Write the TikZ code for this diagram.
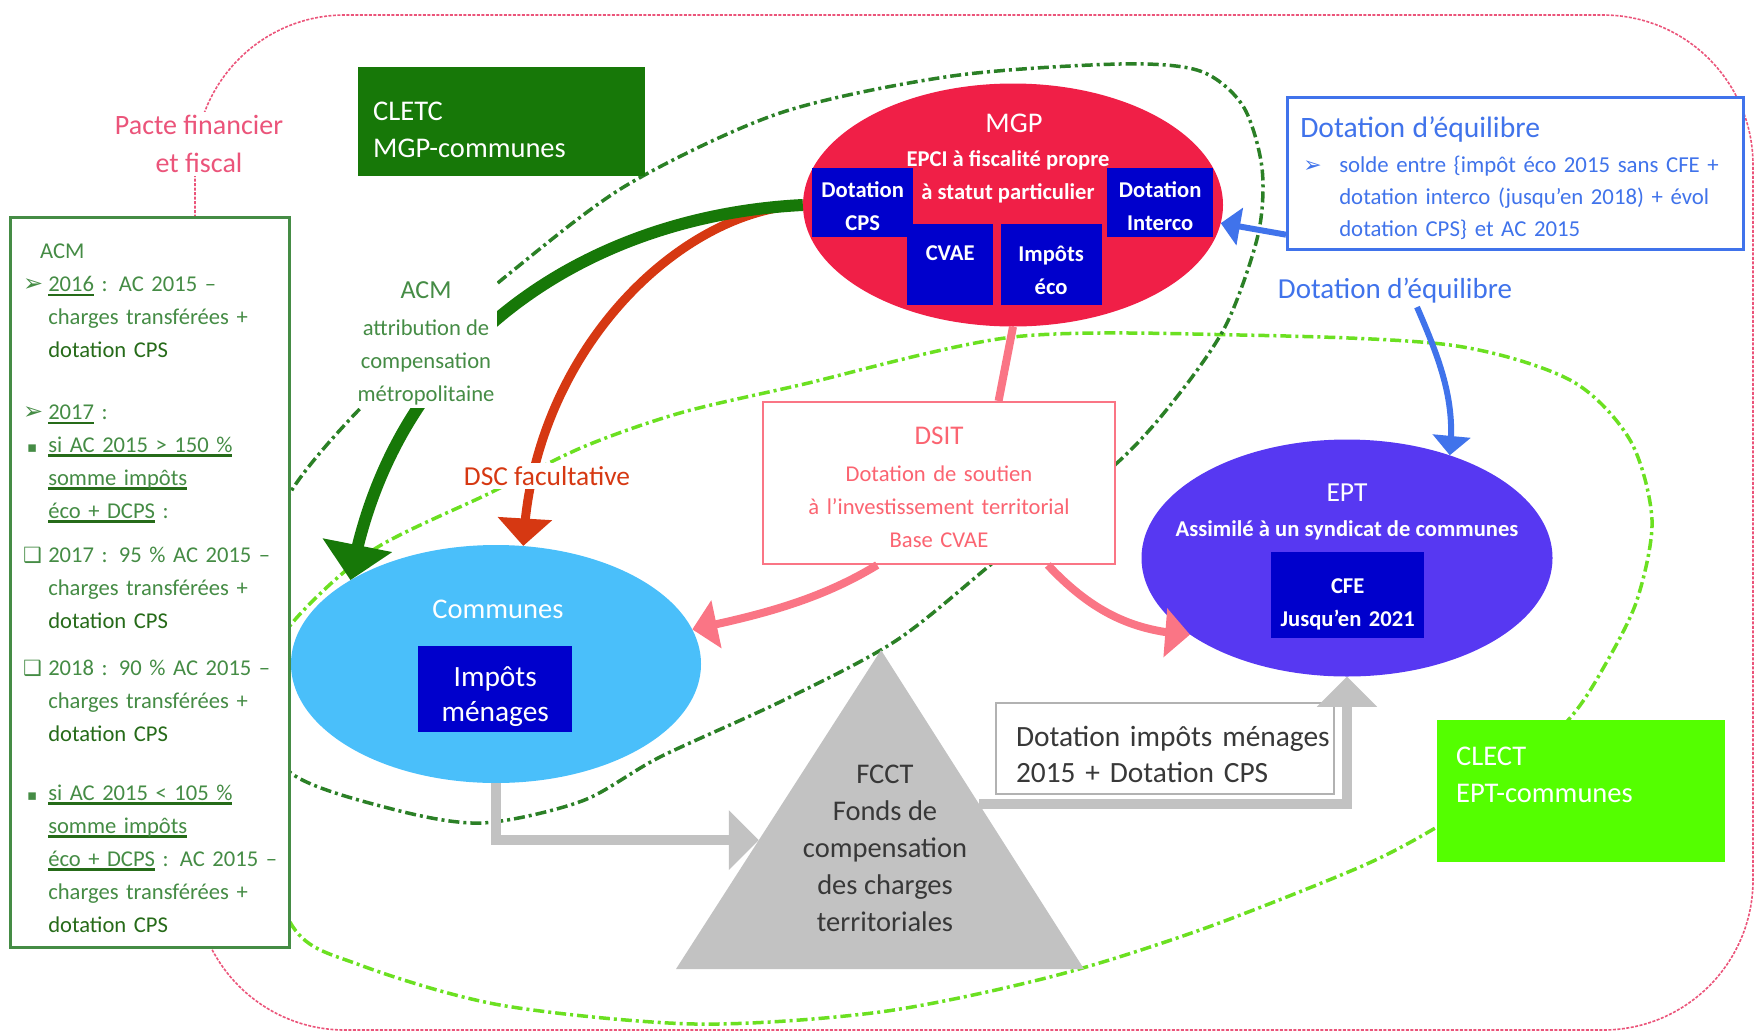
\documentclass[tikz,border=0pt]{standalone}
\usepackage{fontspec}
\setmainfont{Carlito}
\newfontfamily\symfont{DejaVu Sans}
\usetikzlibrary{arrows,positioning,shapes.geometric,calc}
\definecolor{mypink}{rgb}{0.92, 0.33, 0.48}
\definecolor{mydarkgreen}{rgb}{0.09, 0.47, 0.03}
\definecolor{mygreen}{rgb}{0.27, 0.55, 0.27}
\definecolor{myleaf}{rgb}{0.15, 0.42, 0.10}
\definecolor{myforest}{rgb}{0.17, 0.50, 0.15}
\definecolor{mylightgreen}{rgb}{0.42, 0.88, 0.13}
\definecolor{mylime}{rgb}{0.33, 1.0, 0.0}
\definecolor{mycrimson}{rgb}{0.94, 0.12, 0.28}
\definecolor{myrust}{rgb}{0.84, 0.22, 0.07}
\definecolor{mynavy}{rgb}{0.0, 0.0, 0.80}
\definecolor{myblue}{rgb}{0.25, 0.45, 0.92}
\definecolor{mysky}{rgb}{0.29, 0.75, 0.98}
\definecolor{myviolet}{rgb}{0.34, 0.22, 0.95}
\definecolor{mysalmon}{rgb}{0.98, 0.46, 0.52}
\definecolor{mygray}{rgb}{0.76, 0.76, 0.76}
\definecolor{myink}{rgb}{0.22, 0.22, 0.22}
\newcommand\fsmall{\fontsize{22.6}{33}\selectfont}
\newcommand\fbig{\fontsize{28.5}{37}\selectfont}
\newcommand\mk[2]{\makebox[25pt][l]{\symfont\fontsize{#1}{#1}\selectfont #2}}
\newcommand\ind{\hspace*{25pt}}
\newcommand\dotcps{{\color{myleaf}dotation CPS}}
\newcommand\ulacm[3]{\setbox0\hbox{#3}\rlap{\color{myleaf}\rule[#1]{\wd0}{#2}}\box0\relax}
\tikzset{
  frame/.style={rectangle, anchor=north west, inner ysep=0pt, align=left},
  tag/.style={frame, fill=mynavy, text=white, inner xsep=0pt, align=center, font=\fsmall\bfseries},
  arrow/.style={draw, -triangle 90},
  ring/.style={line width=3.5pt, dash pattern=on 11pt off 4pt on 3pt off 4pt},
  caption/.style={fill=white, inner sep=3pt, align=center}
}

\begin{document}
\begin{tikzpicture}[x=1pt, y=1pt, font=\fsmall]
\useasboundingbox (0,0) rectangle (1756,-1034);

% pacte
\draw[mypink, line width=1.6pt, dash pattern=on 3pt off 1.5pt, rounded corners=150pt] (195,-15) rectangle (1753,-1030);

% perimetres
\draw[ring, mylightgreen] plot[smooth cycle] coordinates {(293,-622) (373,-550) (490,-493) (583,-447) (680,-413) (800,-385) (1013,-337) (1240,-335) (1450,-345) (1570,-380) (1630,-440) (1652,-520) (1637,-600) (1605,-665) (1570,-718) (1500,-785) (1437,-827) (1360,-867) (1200,-930) (1050,-977) (880,-1012) (695,-1024) (500,-1005) (360,-965) (293,-927) (250,-800) (255,-690)};
\draw[ring, myforest] plot[smooth cycle] coordinates {(290,-493) (352,-417) (431,-342) (510,-273) (627,-185) (780,-113) (952,-76) (1120,-64) (1200,-71) (1243,-106) (1262,-168) (1258,-235) (1226,-325) (1176,-398) (1117,-463) (1000,-557) (897,-640) (784,-700) (660,-757) (582,-801) (482,-823) (392,-809) (291,-773) (255,-700) (255,-580)};

% boxes
\node [frame, draw=mygreen, line width=2.5pt, fill=white, text=mygreen, text width=253pt, inner xsep=13pt, text height=41pt, text depth=689pt] (acmbox) at (9,-216) {
\hspace*{17pt}ACM\\
\mk{24}{➢}\ulacm{-4.5pt}{2pt}{2016} : AC 2015 –\\
\ind charges transférées +\\
\ind\dotcps\\[29pt]
\mk{24}{➢}\ulacm{-4.5pt}{2pt}{2017} :\\
\mk{15}{\hspace{4pt}▪}\ulacm{-5pt}{3.5pt}{si AC 2015 > 150 \%}\\
\ind\ulacm{-5pt}{3.5pt}{somme impôts}\\
\ind\ulacm{-5pt}{3.5pt}{éco + DCPS} :\\[11pt]
\mk{21}{❑}2017 : 95 \% AC 2015 –\\
\ind charges transférées +\\
\ind\dotcps\\[14pt]
\mk{21}{❑}2018 : 90 \% AC 2015 –\\
\ind charges transférées +\\
\ind\dotcps\\[26pt]
\mk{15}{\hspace{4pt}▪}\ulacm{-5pt}{3.5pt}{si AC 2015 < 105 \%}\\
\ind\ulacm{-5pt}{3.5pt}{somme impôts}\\
\ind\mbox{\ulacm{-5pt}{3.5pt}{éco + DCPS} : AC 2015 –}\\
\ind charges transférées +\\
\ind\dotcps};
\node [caption, text=mypink, font=\fontsize{28}{38}\selectfont] (pacte) at (199,-144) {Pacte financier\\et fiscal};

\node [frame, fill=mydarkgreen, text=white, font=\fbig, text width=257pt, inner xsep=15pt, text height=53.5pt, text depth=55.5pt] (cletc) at (358,-67) {CLETC\\MGP-communes};
\node [frame, fill=mylime, text=white, font=\fbig, text width=250pt, inner xsep=19pt, text height=45.5pt, text depth=96.5pt] (clect) at (1437,-720) {CLECT\\EPT-communes};

\node [frame, draw=myblue, line width=2.5pt, fill=white, text=myblue, text width=430pt, inner xsep=13pt, text height=40pt, text depth=112pt, font=\fontsize{22.8}{32}\selectfont] (dotbox) at (1286,-96) {{\fontsize{29.6}{32}\selectfont Dotation d’équilibre}\\[3pt]
\makebox[39pt][l]{\hspace{3pt}\symfont\fontsize{22}{22}\selectfont ➢}solde entre \{impôt éco 2015 sans CFE +\\
\hspace*{39pt}dotation interco (jusqu’en 2018) + évol\\
\hspace*{39pt}dotation CPS\} et AC 2015};
\node [text=myblue, font=\fontsize{29}{33}\selectfont] (eqlabel) at (1395,-291) {Dotation d’équilibre};

% ellipses
\node [ellipse, fill=mycrimson, minimum width=420pt, minimum height=243pt, inner sep=0pt] (mgp) at (1013,-205) {};
\node [text=white, font=\fbig] (mgpname) at (1014,-123) {MGP};
\node [text=white, font=\fsmall\bfseries, align=center] (mgpstatus) at (1008,-177) {EPCI à fiscalité propre\\à statut particulier};
\node [tag, text width=101pt, text height=29.5pt, text depth=39.5pt] (dotcps) at (812,-168) {Dotation\\CPS};
\node [tag, text width=86pt, text height=36pt, text depth=45pt] (cvae) at (907,-224) {CVAE};
\node [tag, text width=101pt, text height=37pt, text depth=44pt, right=7pt of cvae.north east, anchor=north west] (impeco) {Impôts\\éco};
\node [tag, text width=106pt, text height=29.5pt, text depth=39.5pt] (interco) at (1107,-168) {Dotation\\Interco};

\node [ellipse, fill=mysky, minimum width=410pt, minimum height=238pt, inner sep=0pt] (communes) at (496,-664) {};
\node [text=white, font=\fontsize{28.5}{33}\selectfont] (communesname) at (498,-609) {Communes};
\node [tag, text width=154pt, text height=40pt, text depth=46pt, font=\fontsize{29.4}{35}\selectfont] (menages) at (418,-646) {Impôts\\ménages};

\node [ellipse, fill=myviolet, minimum width=411pt, minimum height=237pt, inner sep=0pt] (ept) at (1347,-558) {};
\node [text=white, font=\fontsize{27.5}{33}\selectfont] (eptname) at (1347,-493) {EPT};
\node [text=white, font=\fsmall\bfseries] (eptstatus) at (1347,-530) {Assimilé à un syndicat de communes};
\node [tag, text width=153pt, text height=41.5pt, text depth=44.5pt] (cfe) at (1271,-552) {CFE\\Jusqu’en 2021};

% fcct
\coordinate (fcctapex) at (881,-650);
\coordinate (fcctleft) at (676,-969);
\coordinate (fcctright) at (1084,-969);
\fill[mygray] (fcctapex) -- (fcctleft) -- (fcctright) -- cycle;
\node [text=myink, font=\fbig, align=center] (fcct) at (885,-848) {FCCT\\Fonds de\\compensation\\des charges\\territoriales};
\coordinate (fcctin) at ($(fcctapex)!0.596!(fcctleft)$);
\coordinate (fcctout) at ($(fcctapex)!0.483!(fcctright)$);

\node [frame, draw=mysalmon, line width=2pt, fill=white, text=mysalmon!85!red, align=center, text width=340pt, inner xsep=6pt, text height=42.5pt, text depth=119.5pt] (dsit) at (762,-401) {{\fontsize{27}{33}\selectfont DSIT}\\[3.5pt]Dotation de soutien\\à l’investissement territorial\\Base CVAE};
\node [frame, draw=gray!60, line width=2pt, fill=white, text=myink, text width=330pt, inner xsep=4pt, text height=43pt, text depth=48pt, font=\fontsize{29.4}{36}\selectfont] (dimbox) at (995,-702) {\hspace*{16pt}Dotation impôts ménages\\\hspace*{16pt}2015 + Dotation CPS};

% arrows
\draw[arrow, myrust, line width=9pt] (mgp.west) .. controls (680,-210) and (535,-350) .. (communes.77);
\draw[arrow, mydarkgreen, line width=12pt] (mgp.west) .. controls (600,-215) and (400,-330) .. (communes.150);
\draw[mysalmon, line width=8pt] (mgp.south) -- (dsit.54);
\draw[arrow, mysalmon, line width=8pt] (dsit.-127) .. controls (820,-600) and (760,-615) .. (communes.10);
\draw[arrow, mysalmon, line width=8pt] (dsit.-37) .. controls (1090,-610) and (1130,-630) .. (ept.206);
\draw[arrow, myblue, line width=6pt] (dotbox.195) -- (mgp.-5);
\draw[arrow, myblue, line width=6pt] ([xshift=22pt]eqlabel.south) .. controls (1440,-360) and (1455,-400) .. (ept.45);
\draw[arrow, mygray, line width=10pt] (communes.south) |- (fcctin);
\draw[arrow, mygray, line width=10pt] (fcctout) -| (ept.south);

% labels
\node [caption, text=mygreen] (acmlabel) at (426,-343) {{\fontsize{26}{33}\selectfont ACM}\\[4pt]attribution de\\compensation\\métropolitaine};
\node [caption, text=myrust, font=\fontsize{27.4}{33}\selectfont] (dsc) at (547,-476) {DSC facultative};

\end{tikzpicture}
\end{document}
